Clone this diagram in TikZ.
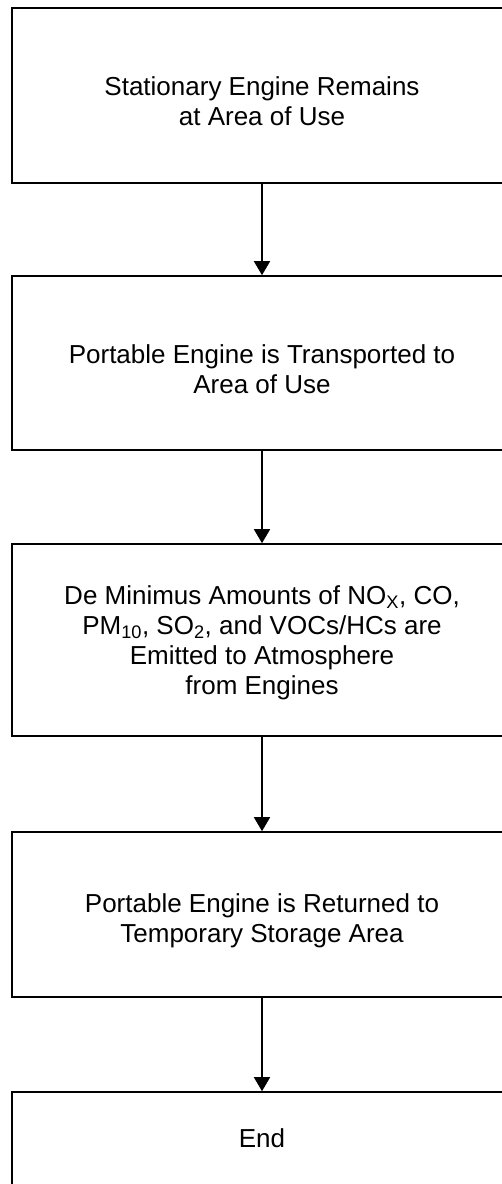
\documentclass[tikz,border=0pt]{standalone}
\usepackage{fontspec}
\setmainfont{Liberation Sans}
\usetikzlibrary{arrows.meta}
\tikzset{
  stepbox/.style={draw, line width=1.6pt, minimum width=500pt, inner sep=0pt},
  steptext/.style={align=center, inner sep=0pt, font=\fontsize{26}{30}\selectfont},
  flow/.style={line width=1.6pt, -{Triangle[width=16pt,length=14pt]}},
}

\begin{document}
\begin{tikzpicture}[x=1pt,y=-1pt]
        \useasboundingbox (0,0) rectangle (502,1184);
        % process steps, top to bottom
        \node[stepbox, minimum height=175pt] (stay) at (262,95.5) {};
        \node[stepbox, minimum height=174pt] (move) at (262,363) {};
        \node[stepbox, minimum height=192pt] (emit) at (262,640) {};
        \node[stepbox, minimum height=165pt] (back) at (262,914.5) {};
        \node[stepbox, minimum height=96pt] (done) at (262,1140) {};

        % texts in the steps
        \node[steptext] (stayT) at ([yshift=-6pt]stay.center)
          {Stationary Engine Remains\\at Area of Use};
        \node[steptext] (moveT) at ([yshift=-6pt]move.center)
          {Portable Engine is Transported to\\Area of Use};
        \node[steptext] (emitT) at ([yshift=-3pt]emit.center)
          {De Minimus Amounts of NO\textsubscript{X}, CO,\\
           PM\textsubscript{10}, SO\textsubscript{2}, and VOCs/HCs are\\
           Emitted to Atmosphere\\from Engines};
        \node[steptext] (backT) at ([yshift=-6pt]back.center)
          {Portable Engine is Returned to\\Temporary Storage Area};
        \node[steptext] (doneT) at ([yshift=2pt]done.center) {End};

        % arrows between steps
        \draw[flow] (stay) -- (move);
        \draw[flow] (move) -- (emit);
        \draw[flow] (emit) -- (back);
        \draw[flow] (back) -- (done);
\end{tikzpicture}
\end{document}
